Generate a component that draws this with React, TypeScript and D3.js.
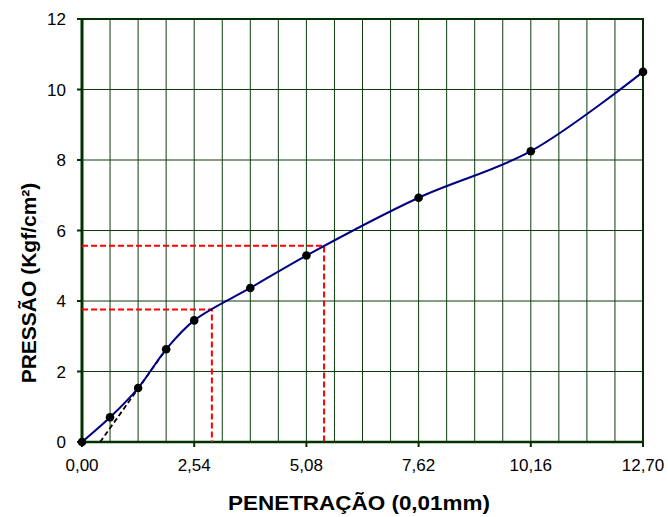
import React from "react";
import * as d3 from "d3";

const penetration = [0, 0.635, 1.27, 1.905, 2.54, 3.81, 5.08, 7.62, 10.16, 12.7];
const pressure = [0, 0.7, 1.53, 2.63, 3.45, 4.37, 5.29, 6.93, 8.25, 10.5];
const xTicks = [0, 2.54, 5.08, 7.62, 10.16, 12.7];
const yTicks = [0, 2, 4, 6, 8, 10, 12];
const correctionX = [0.41, 1.905];
const correctionY = [0, 2.63];
const refX = [2.94, 5.48];
const refY = [3.76, 5.57];

const W = 668;
const H = 517;
const M = { left: 82, right: 25, top: 19, bottom: 75 };

export default function App() {
  const x = d3.scaleLinear().domain([0, 12.7]).range([M.left, W - M.right]);
  const y = d3.scaleLinear().domain([0, 12]).range([H - M.bottom, M.top]);
  const pts = penetration.map((p, i) => [x(p), y(pressure[i])] as [number, number]);
  const line = d3.line().curve(d3.curveCatmullRom.alpha(0.5));
  const vGrid = d3.range(1, 20).map((i) => (12.7 / 20) * i);
  const hGrid = yTicks.slice(1, -1);
  const fmt = (v: number) => v.toFixed(2).replace(".", ",");
  const grid = "#0d3d0d";
  const axis = "#003300";
  const x0 = x(0), x1 = x(12.7), y0 = y(0), y1 = y(12);
  return (
    <svg width={W} height={H} style={{ position: "absolute", left: 0, top: 0, fontFamily: "Liberation Sans, Arial, sans-serif" }}>
      <rect x={0} y={0} width={W} height={H} fill="#fff" />
      {vGrid.map((v, i) => (
        <line key={"v" + i} x1={x(v)} x2={x(v)} y1={y1} y2={y0} stroke={grid} strokeWidth={1} />
      ))}
      {hGrid.map((v, i) => (
        <line key={"h" + i} x1={x0} x2={x1} y1={y(v)} y2={y(v)} stroke={grid} strokeWidth={1} />
      ))}
      <rect x={x0} y={y1} width={x1 - x0} height={y0 - y1} fill="none" stroke={axis} strokeWidth={2} />
      <line x1={x0} x2={x0} y1={y1 - 1} y2={y0} stroke={axis} strokeWidth={3} />
      <line x1={x0} x2={x1 + 1} y1={y0} y2={y0} stroke={axis} strokeWidth={2.5} />
      {yTicks.map((t) => (
        <g key={"yt" + t}>
          <line x1={x0 - 5} x2={x0} y1={y(t)} y2={y(t)} stroke={axis} strokeWidth={2} />
          <text x={x0 - 16} y={y(t) + 6} textAnchor="end" fontSize={17} fill="#000">{t}</text>
        </g>
      ))}
      {xTicks.map((t) => (
        <g key={"xt" + t}>
          <line x1={x(t)} x2={x(t)} y1={y0} y2={y0 + 5} stroke={axis} strokeWidth={2} />
          <text x={x(t)} y={y0 + 29} textAnchor="middle" fontSize={17} fill="#000">{fmt(t)}</text>
        </g>
      ))}
      {refX.map((rx, i) => (
        <path key={"r" + i}
          d={`M${x0},${y(refY[i])}H${x(rx)}V${y0}`}
          fill="none" stroke="#ff0000" strokeWidth={2} strokeDasharray="6,3" />
      ))}
      <line x1={x(correctionX[0])} y1={y(correctionY[0])} x2={x(correctionX[1])} y2={y(correctionY[1])}
        stroke="#000" strokeWidth={1.8} strokeDasharray="5,3" />
      <path d={line(pts) || ""} fill="none" stroke="#000080" strokeWidth={2} />
      {pts.map((p, i) => (
        <circle key={"c" + i} cx={p[0]} cy={p[1]} r={4.3} fill="#000" />
      ))}
      <text x={359} y={510} textAnchor="middle" fontSize={21} fontWeight="bold" fill="#000"
        textLength={262} lengthAdjust="spacingAndGlyphs">PENETRAÇÃO (0,01mm)</text>
      <text transform={`translate(36,283) rotate(-90)`} textAnchor="middle" fontSize={21} fontWeight="bold" fill="#000">PRESSÃO (Kgf/cm²)</text>
    </svg>
  );
}
